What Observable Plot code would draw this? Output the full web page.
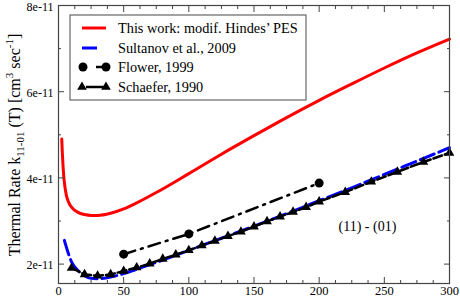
<!DOCTYPE html>
<html>
<head>
<meta charset="utf-8">
<script src="https://cdn.jsdelivr.net/npm/d3@7"></script>
<script src="https://cdn.jsdelivr.net/npm/@observablehq/plot@0.6"></script>
<style>
  html, body { margin: 0; padding: 0; background: #fff; }
</style>
</head>
<body>
<div id="chart"></div>
<script>
// Temperatures (K) and rates (units of 1e-11 cm^3 s^-1)
const redT = [2.5, 3, 4, 5, 6, 8, 10, 15, 20, 25, 30, 40, 50, 60, 75, 100, 125, 150, 175, 200, 225, 250, 275, 300];
const redK = [4.9, 4.55, 4.05, 3.78, 3.6, 3.42, 3.32, 3.2, 3.15, 3.13, 3.13, 3.18, 3.28, 3.42, 3.66, 4.1, 4.55, 4.98, 5.4, 5.8, 6.18, 6.55, 6.9, 7.22];

const blueT = [4.5, 7, 10, 15, 20, 25, 30, 40, 50, 60, 75, 100, 125, 150, 175, 200, 225, 250, 275, 300];
const blueK = [2.55, 2.3, 2.05, 1.85, 1.73, 1.67, 1.66, 1.7, 1.78, 1.88, 2.04, 2.32, 2.6, 2.88, 3.17, 3.47, 3.77, 4.08, 4.39, 4.7];

const flowerT = [50, 100, 200];
const flowerK = [2.23, 2.7, 3.88];

const schaeferT = [10, 20, 30, 40, 50, 60, 70, 80, 90, 100, 110, 120, 130, 140, 150, 160, 170, 180, 190, 200, 220, 240, 260, 280, 300];
const schaeferK = [1.91, 1.76, 1.73, 1.76, 1.84, 1.92, 2.01, 2.12, 2.22, 2.32, 2.43, 2.54, 2.65, 2.75, 2.87, 2.99, 3.1, 3.21, 3.32, 3.45, 3.67, 3.91, 4.14, 4.37, 4.58];

const xMajor = [0, 50, 100, 150, 200, 250, 300];
const xMinor = d3.range(0, 300.1, 12.5).filter(v => v % 50 !== 0);
const yMajor = [2, 4, 6, 8];
const yMinor = [3, 5, 7];

const legendLabels = ["This work: modif. Hindes\u2019 PES", "Sultanov et al., 2009", "Flower, 1999", "Schaefer, 1990"];
const annotation = [{T: 237, k: 2.88, label: "(11) - (01)"}];

const red = redT.map((t, i) => ({T: t, k: redK[i]}));
const blue = blueT.map((t, i) => ({T: t, k: blueK[i]}));
const flower = flowerT.map((t, i) => ({T: t, k: flowerK[i]}));
const schaefer = schaeferT.map((t, i) => ({T: t, k: schaeferK[i]}));

const axisColor = "#444";
const fmtY = d => d + "e-11";
const serif = "'Liberation Serif', 'Times New Roman', serif";

const plot = Plot.plot({
  width: 460,
  height: 299,
  marginLeft: 58,
  marginRight: 11,
  marginTop: 5,
  marginBottom: 16,
  x: {domain: [0, 300]},
  y: {domain: [1.55, 8]},
  style: {fontFamily: serif, fontSize: "12.5px", color: "#000", background: "#fff", overflow: "visible"},
  marks: [
    Plot.line(red, {x: "T", y: "k", stroke: "#ff0000", strokeWidth: 3, curve: "monotone-x"}),
    Plot.line(blue, {x: "T", y: "k", stroke: "#0000ff", strokeWidth: 3, strokeDasharray: "15,5", curve: "monotone-x"}),
    Plot.line(flower, {x: "T", y: "k", stroke: "#000", strokeWidth: 2.5, strokeDasharray: "12,6,2,6"}),
    Plot.dot(flower, {x: "T", y: "k", r: 4.5, fill: "#000", stroke: null}),
    Plot.line(schaefer, {x: "T", y: "k", stroke: "#000", strokeWidth: 2.5, strokeDasharray: "9,3"}),
    Plot.dot(schaefer, {x: "T", y: "k", symbol: "triangle", r: 3.6, fill: "#000", stroke: null}),
    Plot.text(annotation, {x: "T", y: "k", text: "label", fontSize: 14, fill: "#000"}),
    Plot.frame({stroke: axisColor, strokeWidth: 1.2}),
    // bottom axis
    Plot.axisX({anchor: "bottom", ticks: xMajor, tickSize: -6, tickFormat: () => "", stroke: axisColor}),
    Plot.axisX({anchor: "bottom", ticks: xMinor, tickSize: -3, tickFormat: () => "", stroke: axisColor}),
    Plot.axisX({anchor: "bottom", ticks: xMajor, tickSize: 0, tickPadding: 3, tickFormat: d => String(d), fontSize: 12.5}),
    // top axis
    Plot.axisX({anchor: "top", ticks: xMajor, tickSize: -6, tickFormat: () => "", stroke: axisColor}),
    Plot.axisX({anchor: "top", ticks: xMinor, tickSize: -3, tickFormat: () => "", stroke: axisColor}),
    // left axis
    Plot.axisY({anchor: "left", ticks: yMajor, tickSize: -6, tickFormat: () => "", stroke: axisColor}),
    Plot.axisY({anchor: "left", ticks: yMinor, tickSize: -3, tickFormat: () => "", stroke: axisColor}),
    Plot.axisY({anchor: "left", ticks: yMajor, tickSize: 0, tickPadding: 5, dy: 1.5, tickFormat: fmtY, fontSize: 12, label: null}),
    // right axis
    Plot.axisY({anchor: "right", ticks: yMajor, tickSize: -6, tickFormat: () => "", stroke: axisColor, label: null}),
    Plot.axisY({anchor: "right", ticks: yMinor, tickSize: -3, tickFormat: () => "", stroke: axisColor, label: null})
  ]
});

document.getElementById("chart").appendChild(plot);

const svgEl = plot.tagName.toLowerCase() === "svg" ? plot : plot.querySelector("svg");
const svg = d3.select(svgEl);
svg.selectAll("[aria-label='x-axis label'], [aria-label='y-axis label']").remove();

// Y axis title with subscript/superscripts
const yt = svg.append("text")
  .attr("transform", "translate(20,145) rotate(-90)")
  .attr("text-anchor", "middle")
  .style("font-family", serif)
  .attr("font-size", 16)
  .attr("fill", "#000");
yt.append("tspan").text("Thermal Rate k");
yt.append("tspan").attr("font-size", 11).attr("dy", 4).text("11-01");
yt.append("tspan").attr("dy", -4).text(" (T) [cm");
yt.append("tspan").attr("font-size", 11).attr("dy", -7).text("3");
yt.append("tspan").attr("dy", 7).text(" sec");
yt.append("tspan").attr("font-size", 11).attr("dy", -7).text("-1");
yt.append("tspan").attr("dy", 7).text("]");

// Legend box inside the plot
const lg = svg.append("g")
  .style("font-family", serif)
  .attr("font-size", 14.3)
  .attr("text-anchor", "start");
lg.append("rect")
  .attr("x", 70).attr("y", 15).attr("width", 236).attr("height", 85)
  .style("fill", "#ffffff").style("stroke", "#666666").style("stroke-width", "1.2px");
const rowY = [28, 48, 67, 87];
// red
lg.append("line").attr("x1", 82).attr("x2", 106).attr("y1", rowY[0]).attr("y2", rowY[0]).attr("stroke", "#ff0000").attr("stroke-width", 3);
// blue
lg.append("line").attr("x1", 82).attr("x2", 97).attr("y1", rowY[1]).attr("y2", rowY[1]).attr("stroke", "#0000ff").attr("stroke-width", 3);
// flower
lg.append("circle").attr("cx", 83).attr("cy", rowY[2]).attr("r", 4.5).attr("fill", "#000");
lg.append("line").attr("x1", 96).attr("x2", 106).attr("y1", rowY[2]).attr("y2", rowY[2]).attr("stroke", "#000").attr("stroke-width", 2.5);
lg.append("circle").attr("cx", 106).attr("cy", rowY[2]).attr("r", 4.5).attr("fill", "#000");
// schaefer
const tri = d3.symbol(d3.symbolTriangle, Math.PI * 3.6 * 3.6);
lg.append("path").attr("d", tri()).attr("transform", `translate(82,${rowY[3]})`).attr("fill", "#000");
lg.append("line").attr("x1", 86).attr("x2", 104).attr("y1", rowY[3]).attr("y2", rowY[3]).attr("stroke", "#000").attr("stroke-width", 2.5);
lg.append("path").attr("d", tri()).attr("transform", `translate(106,${rowY[3]})`).attr("fill", "#000");
legendLabels.forEach((t, i) => {
  lg.append("text").attr("x", 118).attr("y", rowY[i]).attr("dy", "0.35em").attr("fill", "#000").attr("text-anchor", "start").text(t);
});
</script>
</body>
</html>
